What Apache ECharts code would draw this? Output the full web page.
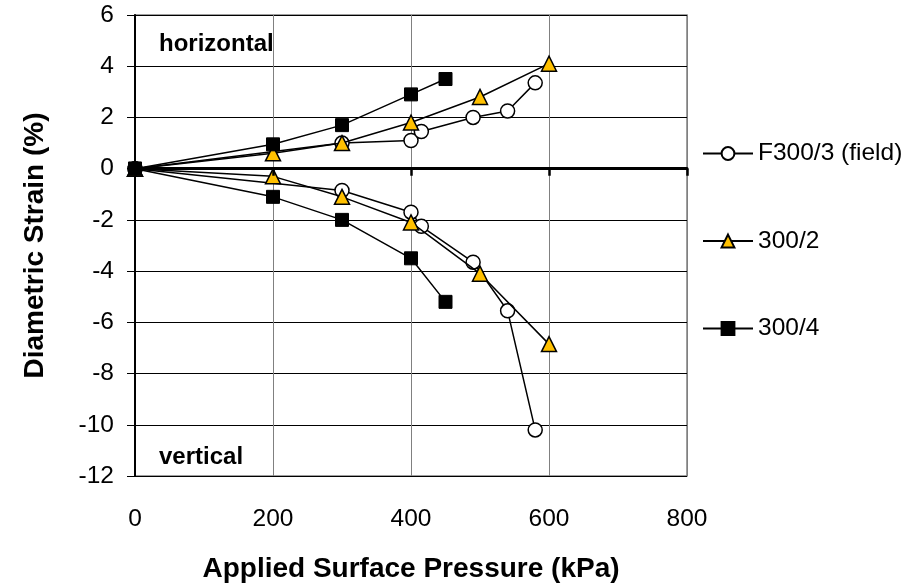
<!DOCTYPE html>
<html>
<head>
<meta charset="utf-8">
<script src="https://cdn.jsdelivr.net/npm/echarts@6/dist/echarts.min.js"></script>
<style>
html,body{margin:0;padding:0;background:#fff;}
#chart{width:908px;height:588px;}
</style>
</head>
<body>
<div id="chart"></div>
<script>
// ---- data ----
const seriesNames = ['F300/3 (field)', '300/2', '300/4'];
const xTicks = [0, 200, 400, 600, 800];
const yTicks = [-12, -10, -8, -6, -4, -2, 0, 2, 4, 6];

const fieldPressure = [0, 300, 400, 415, 490, 540, 580];
const fieldHorizontal = [0, 1.0, 1.1, 1.45, 2.0, 2.25, 3.35];
const fieldVertical = [0, -0.85, -1.7, -2.25, -3.65, -5.55, -10.2];

const s2Pressure = [0, 200, 300, 400, 500, 600];
const s2Horizontal = [0, 0.6, 1.0, 1.8, 2.8, 4.1];
const s2Vertical = [0, -0.3, -1.1, -2.1, -4.1, -6.85];

const s4Pressure = [0, 200, 300, 400, 450];
const s4Horizontal = [0, 0.95, 1.7, 2.9, 3.5];
const s4Vertical = [0, -1.1, -2.0, -3.5, -5.2];

const annotations = ['horizontal', 'vertical'];
const xTitle = 'Applied Surface Pressure (kPa)';
const yTitle = 'Diametric Strain (%)';

// ---- chart ----
const FONT = '"Liberation Sans", Arial, sans-serif';
const zip = (xs, ys) => xs.map((x, i) => [x, ys[i]]);

const styles = [
  {symbol: 'circle', symbolSize: 14, itemStyle: {color: '#ffffff', borderColor: '#000', borderWidth: 1.5}},
  {symbol: 'triangle', symbolSize: 15, itemStyle: {color: '#FFC000', borderColor: '#000', borderWidth: 1.5}},
  {symbol: 'rect', symbolSize: 13, itemStyle: {color: '#000000', borderColor: '#000', borderWidth: 1}}
];
const dataSets = [
  [zip(fieldPressure, fieldHorizontal), zip(fieldPressure, fieldVertical)],
  [zip(s2Pressure, s2Horizontal), zip(s2Pressure, s2Vertical)],
  [zip(s4Pressure, s4Horizontal), zip(s4Pressure, s4Vertical)]
];

const series = [];
dataSets.forEach((pair, i) => {
  pair.forEach((d) => {
    series.push({
      name: seriesNames[i],
      type: 'line',
      xAxisIndex: 0,
      yAxisIndex: 0,
      data: d,
      symbol: styles[i].symbol,
      symbolSize: styles[i].symbolSize,
      showAllSymbol: true,
      itemStyle: styles[i].itemStyle,
      lineStyle: {color: '#000', width: 1.5},
      z: 3 + i,
      animation: false
    });
  });
});

const chart = echarts.init(document.getElementById('chart'), null, {renderer: 'canvas'});
chart.setOption({
  backgroundColor: '#fff',
  animation: false,
  textStyle: {fontFamily: FONT},
  grid: {
    left: 135, right: 221, top: 15, bottom: 105,
    show: true, borderColor: '#808080', borderWidth: 1.5, backgroundColor: 'transparent'
  },
  legend: {
    orient: 'vertical',
    left: 697,
    top: 136,
    itemWidth: 50,
    itemHeight: 16,
    itemGap: 62.5,
    data: seriesNames,
    textStyle: {fontFamily: FONT, fontSize: 24.5, color: '#000'},
    inactiveColor: '#ccc'
  },
  xAxis: [
    {
      type: 'value', min: 0, max: 800, interval: 200,
      position: 'bottom',
      name: xTitle, nameLocation: 'middle', nameGap: 79,
      nameTextStyle: {fontFamily: FONT, fontSize: 28, fontWeight: 'bold', color: '#000'},
      axisLine: {show: false, onZero: false},
      axisTick: {show: false},
      axisLabel: {fontFamily: FONT, fontSize: 24.5, color: '#000', margin: 31},
      splitLine: {show: true, lineStyle: {color: '#808080', width: 1}}
    },
    {
      type: 'value', min: 0, max: 800, interval: 200,
      position: 'bottom',
      axisLine: {show: true, onZero: true, lineStyle: {color: '#000', width: 3}},
      axisTick: {show: true, length: 7, lineStyle: {color: '#000', width: 2.5}},
      axisLabel: {show: false},
      splitLine: {show: false},
      z: 10
    }
  ],
  yAxis: {
    type: 'value', min: -12, max: 6, interval: 2,
    name: yTitle, nameLocation: 'middle', nameGap: 86,
    nameTextStyle: {fontFamily: FONT, fontSize: 28, fontWeight: 'bold', color: '#000'},
    axisLine: {show: true, onZero: false, lineStyle: {color: '#000', width: 2}},
    axisTick: {show: true, length: 8, lineStyle: {color: '#000', width: 1}},
    axisLabel: {fontFamily: FONT, fontSize: 24.5, color: '#000', margin: 21},
    splitLine: {show: true, lineStyle: {color: '#000', width: 1}}
  },
  graphic: [
    {type: 'text', left: 159, top: 32, style: {text: annotations[0], font: 'bold 24px ' + FONT, fill: '#000'}},
    {type: 'text', left: 159, top: 445, style: {text: annotations[1], font: 'bold 24px ' + FONT, fill: '#000'}}
  ],
  series: series
});
</script>
</body>
</html>
